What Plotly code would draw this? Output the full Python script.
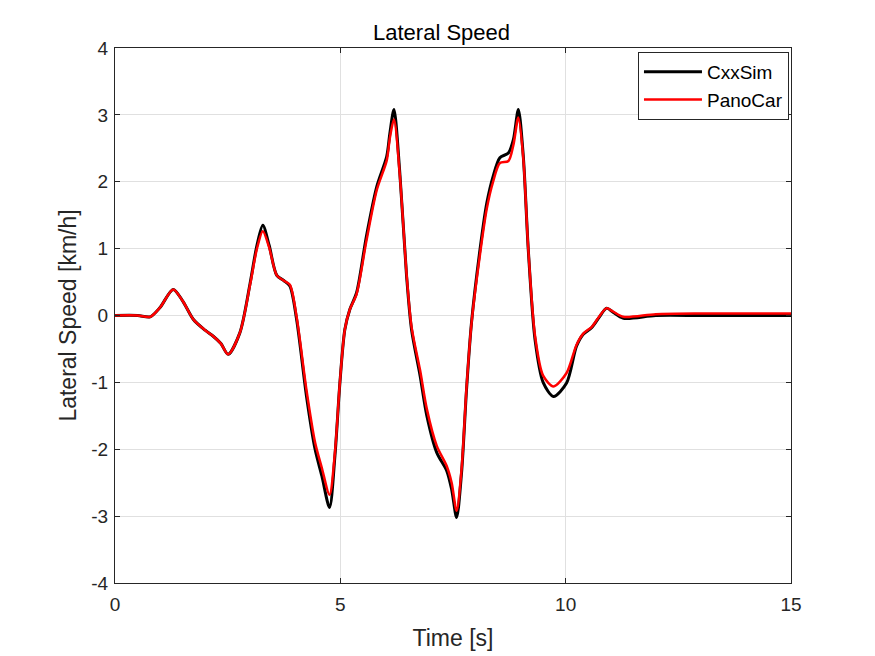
import plotly.graph_objects as go

# time samples [s]
time_s = [0, 0.5, 0.78, 1.0, 1.29, 1.5, 1.74, 2.0, 2.18, 2.35, 2.51, 2.77, 3.0, 3.15, 3.28,
          3.42, 3.59, 3.75, 3.88, 4.03, 4.25, 4.44, 4.59, 4.76, 4.88, 4.99, 5.10, 5.21, 5.36,
          5.58, 5.81, 6.03, 6.10, 6.19, 6.32, 6.47, 6.58, 6.77, 6.92, 7.14, 7.36, 7.47, 7.58,
          7.69, 7.80, 7.91, 8.10, 8.25, 8.39, 8.54, 8.73, 8.84, 8.95, 9.06, 9.17, 9.32, 9.50,
          9.73, 10.02, 10.24, 10.39, 10.58, 10.75, 10.91, 11.05, 11.28, 12, 13, 14, 15]

cxxsim = [0, 0, -0.02, 0.12, 0.39, 0.22, -0.06, -0.22, -0.31, -0.42, -0.58, -0.26, 0.49, 1.05,
          1.35, 1.05, 0.6, 0.52, 0.44, -0.06, -1.21, -2.0, -2.4, -2.87, -2.10, -1.01, -0.21,
          0.09, 0.34, 1.19, 1.93, 2.38, 2.73, 3.08, 2.13, 0.59, -0.21, -0.9, -1.5, -2.05, -2.32,
          -2.6, -3.02, -2.35, -1.11, -0.11, 0.99, 1.68, 2.08, 2.36, 2.43, 2.63, 3.08, 2.38, 0.99,
          -0.36, -1.0, -1.21, -1.01, -0.46, -0.28, -0.18, -0.02, 0.11, 0.05, -0.04, 0, 0, 0, 0]

panocar = [0, 0, -0.02, 0.12, 0.39, 0.22, -0.06, -0.22, -0.31, -0.42, -0.58, -0.26, 0.47, 1.0,
           1.26, 1.02, 0.6, 0.52, 0.46, -0.02, -1.12, -1.9, -2.28, -2.68, -2.05, -1.0, -0.21,
           0.09, 0.32, 1.12, 1.88, 2.32, 2.66, 2.93, 2.1, 0.62, -0.17, -0.82, -1.4, -1.95,
           -2.25, -2.5, -2.92, -2.3, -1.08, -0.12, 0.92, 1.6, 2.0, 2.28, 2.31, 2.55, 2.96, 2.35,
           1.0, -0.3, -0.9, -1.06, -0.86, -0.44, -0.27, -0.17, -0.01, 0.11, 0.06, -0.02, 0.02,
           0.03, 0.03, 0.03]

x_ticks = [0, 5, 10, 15]
y_ticks = [-4, -3, -2, -1, 0, 1, 2, 3, 4]

fig = go.Figure()
fig.add_trace(go.Scatter(x=time_s, y=cxxsim, name="CxxSim", mode="lines",
                         line=dict(color="black", width=3, shape="spline", smoothing=0.8)))
fig.add_trace(go.Scatter(x=time_s, y=panocar, name="PanoCar", mode="lines",
                         line=dict(color="#ff0000", width=2.5, shape="spline", smoothing=0.8)))

axis_style = dict(
    showline=True, linecolor="#262626", linewidth=1, mirror="ticks",
    ticks="inside", ticklen=5, tickcolor="#262626", automargin=False,
    showgrid=True, gridcolor="#e0e0e0", gridwidth=1, zeroline=False,
    tickfont=dict(size=19, color="#262626"),
)

# page body has an 8px margin, so the figure is sized 8px smaller than the window
fig.update_layout(
    width=867, height=648,
    margin=dict(l=107, r=84, t=40, b=73),
    paper_bgcolor="white", plot_bgcolor="white",
    font=dict(family="Liberation Sans, Arial, sans-serif", color="#262626"),
    title=dict(text="Lateral Speed", x=0.5, xanchor="center", y=0.963, yanchor="middle",
               font=dict(size=22, color="black")),
    xaxis=dict(range=[0, 15], tickvals=x_ticks, ticktext=[str(v) for v in x_ticks],
               ticklabelstandoff=4,
               title=dict(text="Time [s]", font=dict(size=23), standoff=16), **axis_style),
    yaxis=dict(range=[-4, 4], tickvals=y_ticks, ticktext=[str(v) for v in y_ticks],
               ticklabelstandoff=2,
               title=dict(text="Lateral Speed [km/h]", font=dict(size=23), standoff=8),
               **axis_style),
    legend=dict(x=0.997, xanchor="right", y=0.9925, yanchor="top", itemwidth=58,
                bgcolor="white", bordercolor="#262626", borderwidth=1,
                font=dict(size=19, color="black"), tracegroupgap=0),
    showlegend=True,
)

fig.write_html("out.html")
